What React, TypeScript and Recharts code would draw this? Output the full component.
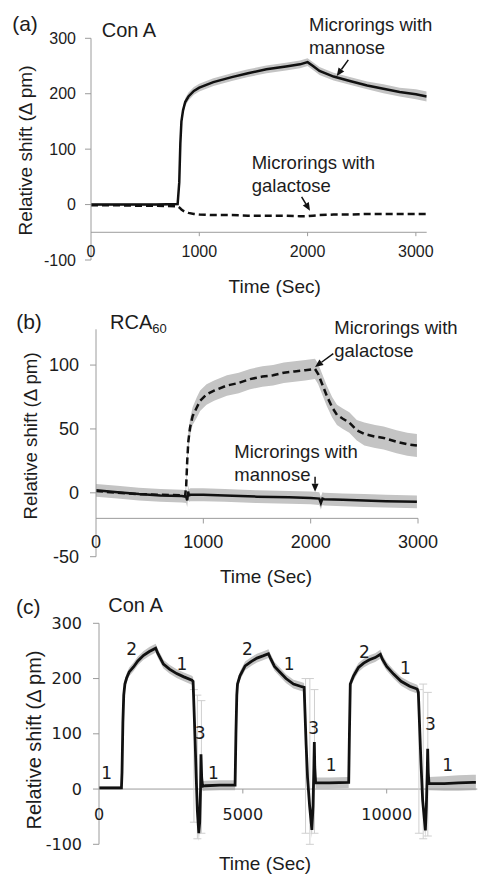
import React from 'react';
import { ComposedChart, Line, Area, XAxis, YAxis, ReferenceLine, ReferenceDot, ErrorBar } from 'recharts';

// ---------- Panel (a): Con A ----------
const tA = [0, 200, 400, 600, 800, 815, 825, 835, 850, 870, 900, 950, 1000, 1130, 1300, 1450, 1620, 1800, 1930, 2000, 2050, 2110, 2240, 2390, 2550, 2700, 2850, 3000, 3100];
const mannoseA = [0, 0, 0, 0, 1, 40, 110, 150, 170, 185, 195, 205, 211, 221, 230, 237, 244, 249, 253, 257, 250, 241, 231, 223, 215, 209, 203, 199, 195];
const mannoseErrA = [2, 2, 2, 2, 2, 4, 6, 7, 7, 7, 7, 7, 7, 7, 7, 7, 7, 7, 7, 7, 7, 7, 7, 7, 7, 8, 8, 9, 9];
const galactoseA = [-1, -1, -2, -2, -3, -5, -7, -9, -11, -13, -15, -17, -18, -19, -19, -20, -20, -20, -21, -21, -20, -19, -18, -18, -17, -17, -17, -17, -17];
const xTicksA = [0, 1000, 2000, 3000];
const yTicksA = [-100, 0, 100, 200, 300];

// ---------- Panel (b): RCA60 ----------
const tBg = [0, 200, 400, 600, 800, 830, 840, 850, 860, 876, 900, 940, 970, 1030, 1100, 1220, 1330, 1435, 1550, 1650, 1750, 1850, 1950, 2040, 2070, 2103, 2150, 2200, 2245, 2300, 2360, 2430, 2500, 2600, 2680, 2800, 2900, 2990];
const galactoseB = [1.5, 0, -1, -1.5, -2, -2.5, 5, 25, 40, 51, 60, 67, 72, 77, 80, 84, 86, 89, 91, 92, 94, 95, 96, 97, 93, 86, 76, 67, 61, 58, 55, 49, 46, 44, 43, 40, 38, 37];
const galactoseErrB = [3, 3, 3, 3, 3, 3, 5, 6, 7, 7, 7, 8, 8, 8, 8, 8, 8, 8, 8, 8, 8, 8, 8, 8, 8, 8, 8, 8, 8, 8, 8, 8, 9, 9, 9, 9, 9, 9];
const tBm = [0, 200, 400, 600, 800, 840, 850, 858, 866, 880, 1000, 1200, 1500, 1800, 2000, 2080, 2095, 2110, 2125, 2300, 2500, 2700, 2990];
const mannoseB = [2, 0.5, -1, -2, -2.5, -3, -6, 1, -2, -1.5, -1.5, -2, -3, -3.5, -4, -4.5, -8, -4.5, -5, -5.5, -6, -6.5, -7];
const mannoseErrB = [5, 5, 5, 5, 5, 5, 5, 5, 5, 5, 5, 5, 5, 5, 5, 5, 5, 5, 5, 5, 5, 5, 5];
const xTicksB = [0, 1000, 2000, 3000];
const yTicksB = [-50, 0, 50, 100];

// ---------- Panel (c): Con A, three cycles ----------
const tC = [0, 400, 780, 800, 830, 860, 900, 960, 1050, 1200,
  1350, 1550, 1750, 1970, 2050, 2240, 2450, 2700, 2950, 3230,
  3270, 3300, 3340, 3380, 3420, 3470, 3500, 3530, 3545, 3570,
  3600, 3700, 4200, 4730, 4760, 4790, 4815, 4900, 5080, 5300,
  5490, 5700, 5890, 5950, 6100, 6300, 6500, 6760, 7000, 7130,
  7160, 7200, 7250, 7320, 7400, 7440, 7470, 7485, 7500, 7530,
  8000, 8680, 8705, 8735, 8850, 9020, 9200, 9400, 9600, 9780,
  9850, 10000, 10240, 10500, 10800, 11060, 11100, 11140, 11190, 11250,
  11345, 11380, 11410, 11425, 11445, 11470, 12000, 12500, 13000, 13100];
const shiftC = [2, 2, 2, 30, 120, 170, 190, 201, 212, 221,
  232, 242, 249, 255, 245, 226, 217, 209, 203, 197,
  195, 150, 90, 20, -40, -80, -60, 0, 63, 20,
  5, 6, 7, 7, 100, 170, 190, 205, 223, 231,
  237, 241, 245, 238, 222, 211, 200, 190, 186, 184,
  140, 80, 20, -30, -74, -30, 40, 85, 40, 11,
  11, 12, 100, 190, 205, 220, 228, 234, 238, 244,
  235, 222, 208, 195, 186, 181, 175, 120, 50, -20,
  -75, -30, 30, 73, 30, 10, 10, 11, 12, 12];
const errC = [3, 3, 3, 6, 8, 8, 8, 8, 8, 8,
  8, 8, 8, 8, 8, 8, 8, 8, 8, 8,
  8, 12, 15, 15, 15, 15, 15, 15, 15, 12,
  9, 9, 9, 9, 8, 8, 8, 8, 8, 8,
  8, 8, 8, 8, 8, 8, 8, 8, 8, 8,
  12, 15, 15, 15, 15, 15, 15, 15, 12, 10,
  10, 10, 8, 8, 8, 8, 8, 8, 8, 8,
  8, 8, 8, 8, 8, 8, 10, 15, 15, 15,
  15, 15, 15, 15, 15, 12, 13, 14, 14, 14];
// long error bars around the regeneration spikes
const spikeT = [3300, 3420, 3560, 7180, 7330, 7490, 11120, 11270, 11430];
const spikeMid = [60, 40, 40, 60, 50, 50, 50, 50, 45];
const spikeErr = [120, 130, 120, 140, 150, 130, 130, 140, 130];
const xTicksC = [0, 5000, 10000];
const yTicksC = [-100, 0, 100, 200, 300];

// annotation anchors (data coordinates)
const annoA = [
  { t: 2013, v: 314, lines: ['Microrings with', 'mannose'] },
  { t: 1484, v: 65, lines: ['Microrings with', 'galactose'] },
];
const arrowsA = [
  { t1: 2376, v1: 261, t2: 2269, v2: 232 },
  { t1: 1945, v1: 14, t2: 2022, v2: -11 },
];
const annoB = [
  { t: 2220, v: 124.7, lines: ['Microrings with', 'galactose'] },
  { t: 1289, v: 26.9, lines: ['Microrings with', 'mannose'] },
];
const arrowsB = [
  { t1: 2211, v1: 109, t2: 2041, v2: 98.5 },
  { t1: 2041, v1: 12.5, t2: 2041, v2: 0.8 },
];
const stepLabelsC = [
  { t: 268, v: 19, s: '1' }, { t: 1138, v: 243, s: '2' }, { t: 2878, v: 216, s: '1' }, { t: 3515, v: 91, s: '3' },
  { t: 3978, v: 19, s: '1' }, { t: 5161, v: 242, s: '2' }, { t: 6612, v: 216, s: '1' }, { t: 7458, v: 100, s: '3' },
  { t: 8074, v: 33, s: '1' }, { t: 9222, v: 238, s: '2' }, { t: 10649, v: 208, s: '1' }, { t: 11519, v: 106, s: '3' },
  { t: 12121, v: 33, s: '1' },
];

const FONT = '"Liberation Sans", Arial, sans-serif';
const DEJA = '"DejaVu Sans", Verdana, sans-serif';
const AXIS = '#9c9c9c';
const BAND = '#c4c4c4';
const TXT = '#1c1c1c';

const build = (t: number[], v: number[], e?: number[]) =>
  t.map((x, i) => ({ t: x, v: v[i], band: e ? [v[i] - e[i], v[i] + e[i]] : [v[i], v[i]] }));

const dataAm = build(tA, mannoseA, mannoseErrA);
const dataAg = build(tA, galactoseA);
const dataBg = build(tBg, galactoseB, galactoseErrB);
const dataBm = build(tBm, mannoseB, mannoseErrB);
const dataC = build(tC, shiftC, errC);
const dataSpikes = spikeT.map((x, i) => ({ t: x, v: spikeMid[i], e: spikeErr[i] }));

const makeXTick = (dy: number, size: number, family: string) => (p: any) => (
  <text x={p.x} y={p.y + dy} textAnchor="middle" fontSize={size} fontFamily={family} fill={TXT}>
    {p.payload.value}
  </text>
);

const ArrowShape = (p: any) => {
  const { x1, y1, x2, y2 } = p;
  const ang = Math.atan2(y2 - y1, x2 - x1);
  const L = 8, W = 3.5;
  const bx = x2 - L * Math.cos(ang), by = y2 - L * Math.sin(ang);
  const px = -Math.sin(ang) * W, py = Math.cos(ang) * W;
  return (
    <g>
      <line x1={x1} y1={y1} x2={bx} y2={by} stroke="#111" strokeWidth={1.5} />
      <polygon points={`${x2},${y2} ${bx + px},${by + py} ${bx - px},${by - py}`} fill="#111" />
    </g>
  );
};

const TickMark = (p: any) => <line x1={p.x1} y1={p.y1} x2={p.x2} y2={p.y2} stroke={AXIS} strokeWidth={1} />;

const textShape = (lines: string[], size: number, anchor: string, family: string) => (p: any) => (
  <text x={p.cx} y={p.cy} fontSize={size} fontFamily={family} fill={TXT} textAnchor={anchor}>
    {lines.map((l, i) => (
      <tspan key={i} x={p.cx} dy={i === 0 ? 0 : 23}>{l}</tspan>
    ))}
  </text>
);

const yTickStyle = (size: number, family: string) => ({ fontSize: size, fontFamily: family, fill: TXT });

const PanelA = () => (
  <ComposedChart width={494} height={290} margin={{ top: 38.3, right: 67.3, bottom: 10, left: 31 }}>
    <XAxis type="number" dataKey="t" domain={[0, 3100]} ticks={xTicksA} interval={0} axisLine={false} tickLine={false}
      tickSize={0} tickMargin={0} height={20} allowDataOverflow tick={makeXTick(-3.3, 16, FONT)} />
    <YAxis type="number" domain={[-100, 300]} ticks={yTicksA} interval={0} width={60} allowDataOverflow
      axisLine={{ stroke: AXIS }} tickLine={{ stroke: AXIS }} tickSize={6} tickMargin={9} tick={yTickStyle(16, FONT)} />
    <ReferenceLine y={-50} stroke={AXIS} strokeWidth={1} />
    {xTicksA.slice(1).map((x) => (
      <ReferenceLine key={x} segment={[{ x, y: -50 }, { x, y: -57 }]} shape={TickMark} ifOverflow="visible" />
    ))}
    <Area data={dataAm} dataKey="band" stroke="none" fill={BAND} fillOpacity={1} isAnimationActive={false} />
    <Line data={dataAg} dataKey="v" stroke="#111" strokeWidth={2.5} strokeDasharray="7 4" dot={false} isAnimationActive={false} />
    <Line data={dataAm} dataKey="v" stroke="#111" strokeWidth={2.5} dot={false} isAnimationActive={false} />
    {arrowsA.map((a, i) => (
      <ReferenceLine key={'ar' + i} segment={[{ x: a.t1, y: a.v1 }, { x: a.t2, y: a.v2 }]} shape={ArrowShape} ifOverflow="visible" />
    ))}
    {annoA.map((a, i) => (
      <ReferenceDot key={'an' + i} x={a.t} y={a.v} r={1} ifOverflow="visible" shape={textShape(a.lines, 18.5, 'start', FONT)} />
    ))}
  </ComposedChart>
);

const PanelB = () => (
  <ComposedChart width={494} height={300} margin={{ top: 39.3, right: 76, bottom: 13.3, left: 36 }}>
    <XAxis type="number" dataKey="t" domain={[0, 3000]} ticks={xTicksB} interval={0} axisLine={false} tickLine={false}
      tickSize={0} tickMargin={0} height={20} allowDataOverflow tick={makeXTick(-8.4, 18, FONT)} />
    <YAxis type="number" domain={[-50, 128]} ticks={yTicksB} interval={0} width={60} allowDataOverflow
      axisLine={{ stroke: AXIS }} tickLine={{ stroke: AXIS }} tickSize={6} tickMargin={11} tick={yTickStyle(18, FONT)} />
    <ReferenceLine y={-20} stroke={AXIS} strokeWidth={1} />
    {xTicksB.slice(1).map((x) => (
      <ReferenceLine key={x} segment={[{ x, y: -20 }, { x, y: -24 }]} shape={TickMark} ifOverflow="visible" />
    ))}
    <Area data={dataBm} dataKey="band" stroke="none" fill={BAND} fillOpacity={1} isAnimationActive={false} />
    <Area data={dataBg} dataKey="band" stroke="none" fill={BAND} fillOpacity={1} isAnimationActive={false} />
    <Line data={dataBg} dataKey="v" stroke="#111" strokeWidth={2.5} strokeDasharray="7 4" dot={false} isAnimationActive={false} />
    <Line data={dataBm} dataKey="v" stroke="#111" strokeWidth={2.5} dot={false} isAnimationActive={false} />
    {arrowsB.map((a, i) => (
      <ReferenceLine key={'ar' + i} segment={[{ x: a.t1, y: a.v1 }, { x: a.t2, y: a.v2 }]} shape={ArrowShape} ifOverflow="visible" />
    ))}
    {annoB.map((a, i) => (
      <ReferenceDot key={'an' + i} x={a.t} y={a.v} r={1} ifOverflow="visible" shape={textShape(a.lines, 18.5, 'start', FONT)} />
    ))}
  </ComposedChart>
);

const PanelC = () => (
  <ComposedChart width={494} height={303} margin={{ top: 33.3, right: 16.7, bottom: 28.7, left: 39 }}>
    <XAxis type="number" dataKey="t" domain={[0, 13150]} ticks={xTicksC} interval={0} axisLine={false} tickLine={false}
      tickSize={0} tickMargin={0} height={20} allowDataOverflow tick={makeXTick(-24.3, 16, DEJA)} />
    <YAxis type="number" domain={[-100, 300]} ticks={yTicksC} interval={0} width={60} allowDataOverflow
      axisLine={{ stroke: AXIS }} tickLine={{ stroke: AXIS }} tickSize={6} tickMargin={11} tick={yTickStyle(16, DEJA)} />
    <ReferenceLine y={0} stroke={AXIS} strokeWidth={1} />
    {xTicksC.slice(1).map((x) => (
      <ReferenceLine key={x} segment={[{ x, y: 0 }, { x, y: -8 }]} shape={TickMark} ifOverflow="visible" />
    ))}
    <Line data={dataSpikes} dataKey="v" stroke="none" dot={false} isAnimationActive={false}>
      <ErrorBar dataKey="e" direction="y" width={4} stroke="#cfcfcf" strokeWidth={1} />
    </Line>
    <Area data={dataC} dataKey="band" stroke="none" fill={BAND} fillOpacity={1} isAnimationActive={false} />
    <Line data={dataC} dataKey="v" stroke="#111" strokeWidth={2.8} dot={false} isAnimationActive={false} />
    {stepLabelsC.map((a, i) => (
      <ReferenceDot key={'s' + i} x={a.t} y={a.v} r={1} ifOverflow="visible" shape={textShape([a.s], 17, 'middle', DEJA)} />
    ))}
  </ComposedChart>
);

const T = (props: any) => <text fontFamily={FONT} fill={TXT} {...props} />;

export default function App() {
  return (
    <div style={{ position: 'absolute', left: 0, top: 0, width: 494, height: 893, background: '#fff', overflow: 'hidden' }}>
      <div style={{ position: 'absolute', left: 0, top: 0 }}><PanelA /></div>
      <div style={{ position: 'absolute', left: 0, top: 290 }}><PanelB /></div>
      <div style={{ position: 'absolute', left: 0, top: 590 }}><PanelC /></div>
      <svg width={494} height={893} style={{ position: 'absolute', left: 0, top: 0, pointerEvents: 'none' }}>
        {/* panel (a) */}
        <T x={25} y={23.3} fontSize={21} textAnchor="middle" dominantBaseline="central">(a)</T>
        <T x={101.7} y={36.7} fontSize={20}>Con A</T>
        <T x={25} y={150.5} fontSize={19} textAnchor="middle" dominantBaseline="central" transform="rotate(-90 25 150.5)">Relative shift (Δ pm)</T>
        <T x={274.7} y={293} fontSize={19} textAnchor="middle">Time (Sec)</T>
        {/* panel (b) */}
        <T x={29} y={321.7} fontSize={21} textAnchor="middle" dominantBaseline="central">(b)</T>
        <T x={110} y={329} fontSize={20}>RCA<tspan fontSize={13} dy={4}>60</tspan></T>
        <T x={30} y={436} fontSize={18.7} textAnchor="middle" dominantBaseline="central" transform="rotate(-90 30 436)">Relative shift (Δ pm)</T>
        <T x={266} y={583.3} fontSize={19} textAnchor="middle">Time (Sec)</T>
        {/* panel (c) */}
        <T x={28.3} y={606.7} fontSize={21} textAnchor="middle" dominantBaseline="central">(c)</T>
        <T x={108.3} y={611.7} fontSize={20}>Con A</T>
        <T x={34} y={740} fontSize={20} textAnchor="middle" dominantBaseline="central" transform="rotate(-90 34 740)">Relative shift (Δ pm)</T>
        <T x={265} y={870} fontSize={19} textAnchor="middle">Time (Sec)</T>
      </svg>
    </div>
  );
}
